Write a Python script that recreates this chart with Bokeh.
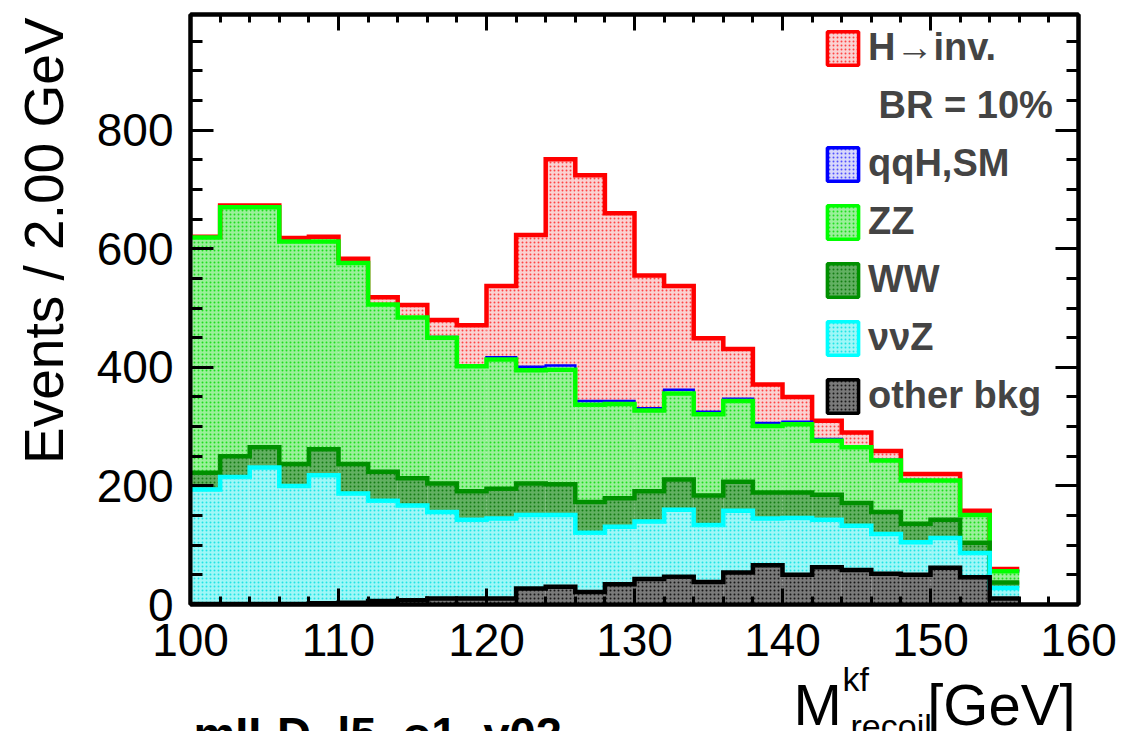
import numpy as np
from bokeh.plotting import figure
from bokeh.layouts import column
from bokeh.models import (Range1d, LinearAxis, SingleIntervalTicker, Legend,
                          LegendItem, Label, CustomJSTickFormatter)
from bokeh.embed import file_html
from bokeh.resources import INLINE

# ---------------- data (events per 2 GeV bin) ----------------
bin_lo = [100, 102, 104, 106, 108, 110, 112, 114, 116, 118,
          120, 122, 124, 126, 128, 130, 132, 134, 136, 138,
          140, 142, 144, 146, 148, 150, 152, 154, 156, 158]
bin_width = 2

other_bkg = [1, 1, 1, 1, 2, 3, 6, 7, 10, 10,
             10, 27, 30, 21, 34, 43, 47, 38, 54, 66,
             50, 63, 58, 52, 50, 62, 46, 10, 0, 0]
nunuZ = [193, 214, 230, 199, 216, 184, 169, 160, 146, 133,
         135, 124, 121, 100, 97, 97, 113, 96, 104, 79,
         96, 80, 75, 67, 55, 50, 41, 18, 0, 0]
WW = [28, 35, 34, 37, 44, 50, 49, 46, 48, 48,
      50, 53, 52, 52, 48, 51, 51, 50, 49, 44,
      43, 42, 38, 37, 31, 31, 17, 9, 0, 0]
ZZ = [397, 420, 405, 375, 350, 339, 282, 271, 246, 211,
      218, 191, 193, 164, 159, 136, 145, 137, 136, 112,
      115, 91, 94, 87, 73, 66, 47, 19, 0, 0]
qqH_SM = [0, 0, 0, 0, 0, 0, 0, 0, 1, 1,
          4, 6, 7, 6, 5, 4, 6, 4, 4, 5,
          4, 3, 2, 1, 1, 0, 0, 0, 0, 0]
H_inv = [1, 3, 3, 6, 8, 7, 12, 21, 29, 68,
         120, 222, 348, 381, 317, 224, 175, 124, 84, 65,
         42, 31, 23, 15, 10, 11, 7, 4, 0, 0]

x_ticks_interval = 10
y_ticks_interval = 200

# stack order bottom -> top : (label, values, line colour, fill colour, hatch colour)
layers = [
    ("other bkg", other_bkg, "#000000", "#7a7a7a", "#000000"),
    ("\u03bd\u03bdZ", nunuZ, "#00ffff", "#9ff7f7", "#00e0e0"),
    ("WW", WW, "#009000", "#62b062", "#007000"),
    ("ZZ", ZZ, "#00ff00", "#9af09a", "#00d800"),
    ("qqH,SM", qqH_SM, "#0000ff", "#d8d8fb", "#3030ff"),
    ("H\u2192inv.", H_inv, "#ff0000", "#fad2d2", "#ff2020"),
]

FONT = "Liberation Sans"
W = 1140
FRAME_L, FRAME_R = 190, 1078
MAIN_H = 676

p = figure(width=W, height=MAIN_H, output_backend="svg", toolbar_location=None,
           title=None, x_range=Range1d(100, 160), y_range=Range1d(0, 995),
           x_axis_location=None, y_axis_location=None,
           min_border_left=FRAME_L, min_border_right=W - FRAME_R,
           min_border_top=14, min_border_bottom=MAIN_H - 604)
p.xgrid.visible = False
p.ygrid.visible = False
p.outline_line_color = "black"
p.outline_line_width = 4
p.background_fill_color = "white"
p.border_fill_color = "white"

lo = np.array(bin_lo, dtype=float)
hi = lo + bin_width
cum = np.cumsum(np.array([l[1] for l in layers], dtype=float), axis=0)

# filled areas
for i, (name, vals, lc, fc, hc) in enumerate(layers):
    bottom = cum[i - 1] if i > 0 else np.zeros_like(lo)
    p.quad(left=lo, right=hi, bottom=bottom, top=cum[i], fill_color=fc,
           line_color=None, hatch_pattern="dot", hatch_color=hc,
           hatch_scale=4, hatch_weight=1.6, hatch_alpha=0.8)

# outlines, top layer first so lower outlines sit on top
nz = np.nonzero(cum[-1])[0]
n = int(nz[-1]) + 1
xs = list(lo[:n]) + [hi[n - 1]]
for i in reversed(range(len(layers))):
    name, vals, lc, fc, hc = layers[i]
    ys = list(cum[i][:n]) + [cum[i][n - 1]]
    lw = 2.5 if name == "qqH,SM" else 4.5
    p.step(x=xs, y=ys, mode="after", line_color=lc, line_width=lw,
           line_join="miter")

# axes with inward ticks on all four sides
def style_axis(ax, major_in, minor_in, labels=True):
    ax.axis_line_width = 4
    ax.axis_line_color = "black"
    ax.major_tick_in = major_in
    ax.major_tick_out = 0
    ax.minor_tick_in = minor_in
    ax.minor_tick_out = 0
    ax.major_tick_line_width = 3
    ax.minor_tick_line_width = 3
    if labels:
        ax.major_label_text_font = FONT
        ax.major_label_text_font_size = "46px"
        ax.major_label_text_color = "black"
    else:
        ax.formatter = CustomJSTickFormatter(code="return ''")
        ax.major_label_standoff = 0
        ax.major_label_text_font_size = "1px"

xb = LinearAxis(ticker=SingleIntervalTicker(interval=x_ticks_interval, num_minor_ticks=5))
style_axis(xb, 16, 8)
xb.major_label_standoff = 19
p.add_layout(xb, "below")

xt = LinearAxis(ticker=SingleIntervalTicker(interval=x_ticks_interval, num_minor_ticks=5))
style_axis(xt, 16, 8, labels=False)
p.add_layout(xt, "above")

yl = LinearAxis(ticker=SingleIntervalTicker(interval=y_ticks_interval, num_minor_ticks=4))
style_axis(yl, 23, 12)
yl.major_label_standoff = 17
yl.axis_label_text_font = FONT
yl.axis_label_text_font_size = "55px"
yl.axis_label_text_font_style = "normal"
yl.axis_label_text_color = "black"
yl.axis_label_standoff = 19
# leading no-break spaces push the centred title towards the top (ROOT style)
yl.axis_label = "\u00a0" * 9 + "Events / 2.00 GeV"
p.add_layout(yl, "left")

yr = LinearAxis(ticker=SingleIntervalTicker(interval=y_ticks_interval, num_minor_ticks=4))
style_axis(yr, 23, 12, labels=False)
p.add_layout(yr, "right")

# legend (top layer first); legend swatches use zero-size quads
items = []
for name, vals, lc, fc, hc in reversed(layers):
    r = p.quad(left=lo[:1], right=lo[:1], top=[0], bottom=[0], fill_color=fc,
               line_color=lc, line_width=3.5, hatch_pattern="dot",
               hatch_color=hc, hatch_scale=4, hatch_weight=1.6, hatch_alpha=0.8)
    items.append(LegendItem(label=name, renderers=[r]))
    if name.startswith("H"):
        rb = p.quad(left=lo[:1], right=lo[:1], top=[0], bottom=[0],
                    fill_alpha=0, line_alpha=0)
        items.append(LegendItem(label="\u00a0BR = 10%", renderers=[rb]))

legend = Legend(items=items, location=(633, 187), glyph_width=39,
                glyph_height=42, label_height=42, spacing=15, padding=0,
                margin=0, label_standoff=6, border_line_color=None,
                background_fill_alpha=0, label_text_font=FONT,
                label_text_font_style="bold", label_text_font_size="38px")
p.add_layout(legend, "center")

# ---------- transparent strip for the x-axis title and the note ----------
# The strip is pulled up so that it overlaps the lower border of the chart.
STRIP_TOP = 670
STRIP_PULL = 24
STRIP_H = 731 - MAIN_H + STRIP_PULL
p2 = figure(width=W, height=STRIP_H, output_backend="svg", toolbar_location=None,
            title=None, x_axis_location=None, y_axis_location=None,
            x_range=Range1d(100, 160), y_range=Range1d(STRIP_TOP + STRIP_H, STRIP_TOP),
            min_border_left=FRAME_L, min_border_right=W - FRAME_R,
            min_border_top=0, min_border_bottom=0)
p2.margin = (-STRIP_PULL, 0, 0, 0)
p2.grid.visible = False
p2.outline_line_color = None
p2.background_fill_alpha = 0
p2.border_fill_alpha = 0

px_per_gev = (FRAME_R - FRAME_L) / 60.0

def note(x_px, y_px, text, size, style="normal", align="left"):
    p2.add_layout(Label(x=100 + (x_px - FRAME_L) / px_per_gev, y=y_px,
                        text=text, text_align=align, text_baseline="alphabetic",
                        text_font=FONT, text_font_style=style,
                        text_font_size=size, text_color="black"))

note(793, 722, "M", "58px")
note(842, 696, "kf", "34px")
note(850, 743, "recoil", "34px")
note(1075, 722, "[GeV]", "58px", align="right")
note(193, 751, "mILD_l5_o1_v02", "47px", style="bold")

layout = column(p, p2, spacing=0)
open("out.html", "w").write(file_html(layout, INLINE))
